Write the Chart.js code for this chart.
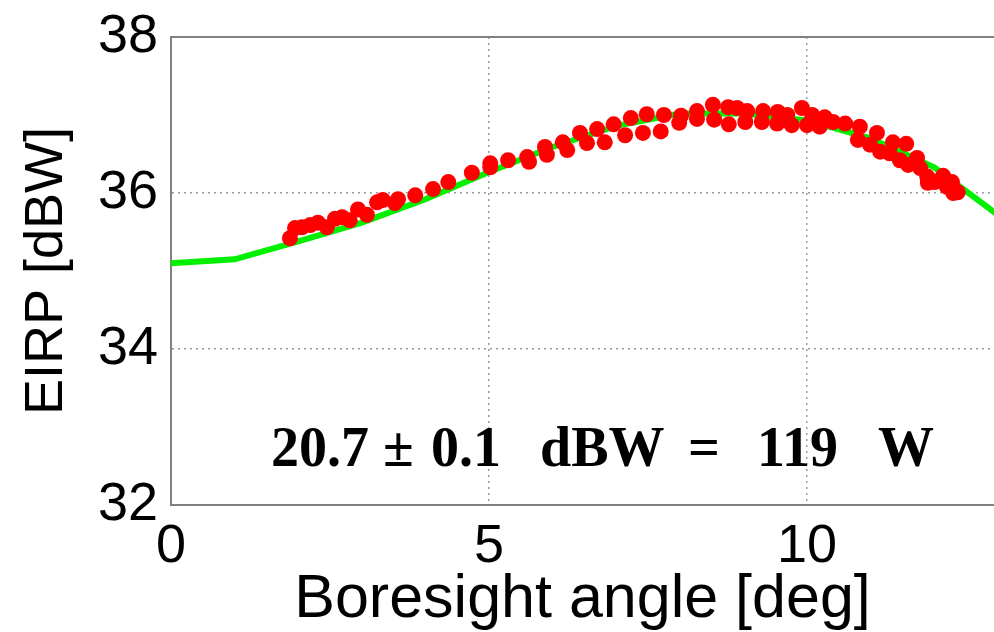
<!DOCTYPE html>
<html lang="en">
<head>
  <meta charset="UTF-8">
  <title>EIRP vs boresight angle</title>
  <style>
    body {
      margin: 0;
      background: #fff;
    }
    canvas {
      display: block;
    }
  </style>
</head>
<body>
  <canvas id="eirpChart" width="994" height="632"></canvas>

  <script src="https://cdn.jsdelivr.net/npm/chart.js"></script>
  <script>
    // model curve (green)
    const modelAngle = [0, 1, 2, 3, 4, 5, 6, 7, 8, 9, 10, 11, 12, 13];
    const modelEirp  = [35.10, 35.15, 35.38, 35.62, 35.92, 36.27, 36.59, 36.86, 37.02, 37.02, 36.93, 36.70, 36.33, 35.72];

    // measured points (red)
    const measAngle = [
      1.87, 1.95, 2.06, 2.19, 2.31, 2.45, 2.58, 2.69, 2.81, 2.94, 3.08, 3.24, 3.33, 3.52, 3.57,
      3.84, 4.12, 4.36, 4.73, 5.02, 5.02, 5.30, 5.60, 5.63, 5.88, 5.91, 6.16, 6.23, 6.43, 6.54,
      6.70, 6.82, 6.96, 7.14, 7.23, 7.42, 7.48, 7.70, 7.75, 7.99, 8.02, 8.27, 8.27, 8.52, 8.54,
      8.76, 8.77, 8.90, 9.03, 9.06, 9.29, 9.31, 9.53, 9.54, 9.69, 9.76, 9.92, 10.00, 10.08, 10.20,
      10.28, 10.41, 10.60, 10.80, 10.83, 10.99, 11.10, 11.15, 11.30, 11.35, 11.46, 11.56, 11.59, 11.73, 11.78,
      11.89, 11.90, 12.01, 12.14, 12.20, 12.28, 12.30, 12.37
    ];
    const measEirp = [
      35.42, 35.55, 35.56, 35.59, 35.62, 35.56, 35.67, 35.69, 35.65, 35.79, 35.72, 35.88, 35.91, 35.87, 35.92,
      35.97, 36.05, 36.14, 36.26, 36.33, 36.38, 36.42, 36.46, 36.40, 36.59, 36.49, 36.65, 36.55, 36.77, 36.64,
      36.82, 36.65, 36.88, 36.74, 36.96, 36.77, 37.01, 36.79, 37.00, 36.90, 36.99, 37.05, 36.95, 37.13, 36.94,
      37.10, 36.88, 37.09, 36.91, 37.05, 36.91, 37.05, 36.89, 37.04, 37.00, 36.87, 37.09, 36.87, 37.00, 36.85,
      36.97, 36.91, 36.89, 36.68, 36.85, 36.62, 36.77, 36.53, 36.51, 36.65, 36.42, 36.63, 36.36, 36.45, 36.32,
      36.21, 36.13, 36.14, 36.22, 36.08, 36.14, 36.00, 36.01
    ];

    const xTicks = [0, 5, 10];
    const yTicks = [32, 34, 36, 38];

    const sansFont = "'Liberation Sans', Arial, Helvetica, sans-serif";

    // top frame line + bold annotation text
    const extras = {
      id: 'extras',
      afterDraw(chart) {
        const {ctx, chartArea} = chart;
        ctx.save();
        ctx.strokeStyle = '#808080';
        ctx.lineWidth = 2;
        ctx.beginPath();
        ctx.moveTo(chartArea.left, chartArea.top);
        ctx.lineTo(chartArea.right, chartArea.top);
        ctx.stroke();

        ctx.fillStyle = '#000';
        ctx.font = "bold 56px 'Liberation Serif', 'DejaVu Serif', serif";
        ctx.textBaseline = 'alphabetic';
        const pieces = [['20.7', 271], ['\u00b1', 383], ['0.1', 431], ['dBW', 540], ['=', 688], ['119', 757], ['W', 878]];
        pieces.forEach(([t, x]) => ctx.fillText(t, x, 466));
        ctx.restore();
      }
    };

    const ctx = document.getElementById('eirpChart').getContext('2d');
    new Chart(ctx, {
      data: {
        datasets: [
          {
            type: 'line',
            label: 'Model',
            data: modelAngle.map((a, i) => ({x: a, y: modelEirp[i]})),
            borderColor: '#00f000',
            borderWidth: 6,
            pointRadius: 0,
            tension: 0,
            order: 2
          },
          {
            type: 'scatter',
            label: 'Measured',
            data: measAngle.map((a, i) => ({x: a, y: measEirp[i]})),
            backgroundColor: '#ff0000',
            borderWidth: 0,
            pointRadius: 8,
            order: 1
          }
        ]
      },
      options: {
        responsive: false,
        animation: false,
        layout: { autoPadding: false, padding: { top: 37, right: 0, left: 0, bottom: 0 } },
        plugins: {
          legend: { display: false },
          tooltip: { enabled: false }
        },
        scales: {
          x: {
            type: 'linear',
            min: 0,
            max: 12.94,
            afterFit: s => { s.height = 127; s.paddingLeft = 0; s.paddingRight = 0; },
            afterBuildTicks: s => { s.ticks = xTicks.map(v => ({value: v})); },
            ticks: { font: { family: sansFont, size: 54 }, color: '#000', padding: 10, includeBounds: false },
            grid: { color: '#9a9a9a', lineWidth: 1.5, drawTicks: false },
            border: { color: '#808080', width: 2, dash: [2, 4] },
            title: {
              display: true,
              text: 'Boresight angle [deg]',
              color: '#000',
              font: { family: sansFont, size: 61, lineHeight: 1 },
              padding: { bottom: 1 }
            }
          },
          y: {
            min: 32,
            max: 38,
            afterFit: s => { s.width = 171; s.paddingTop = 0; s.paddingBottom = 0; },
            afterBuildTicks: s => { s.ticks = yTicks.map(v => ({value: v})); },
            ticks: { font: { family: sansFont, size: 54 }, color: '#000', padding: 13 },
            grid: { color: '#9a9a9a', lineWidth: 1.5, drawTicks: false },
            border: { color: '#808080', width: 2, dash: [2, 4] },
            title: {
              display: true,
              text: 'EIRP [dBW]',
              color: '#000',
              font: { family: sansFont, size: 54, lineHeight: 1 },
              padding: { top: 20 }
            }
          }
        }
      },
      plugins: [extras]
    });
  </script>
</body>
</html>
